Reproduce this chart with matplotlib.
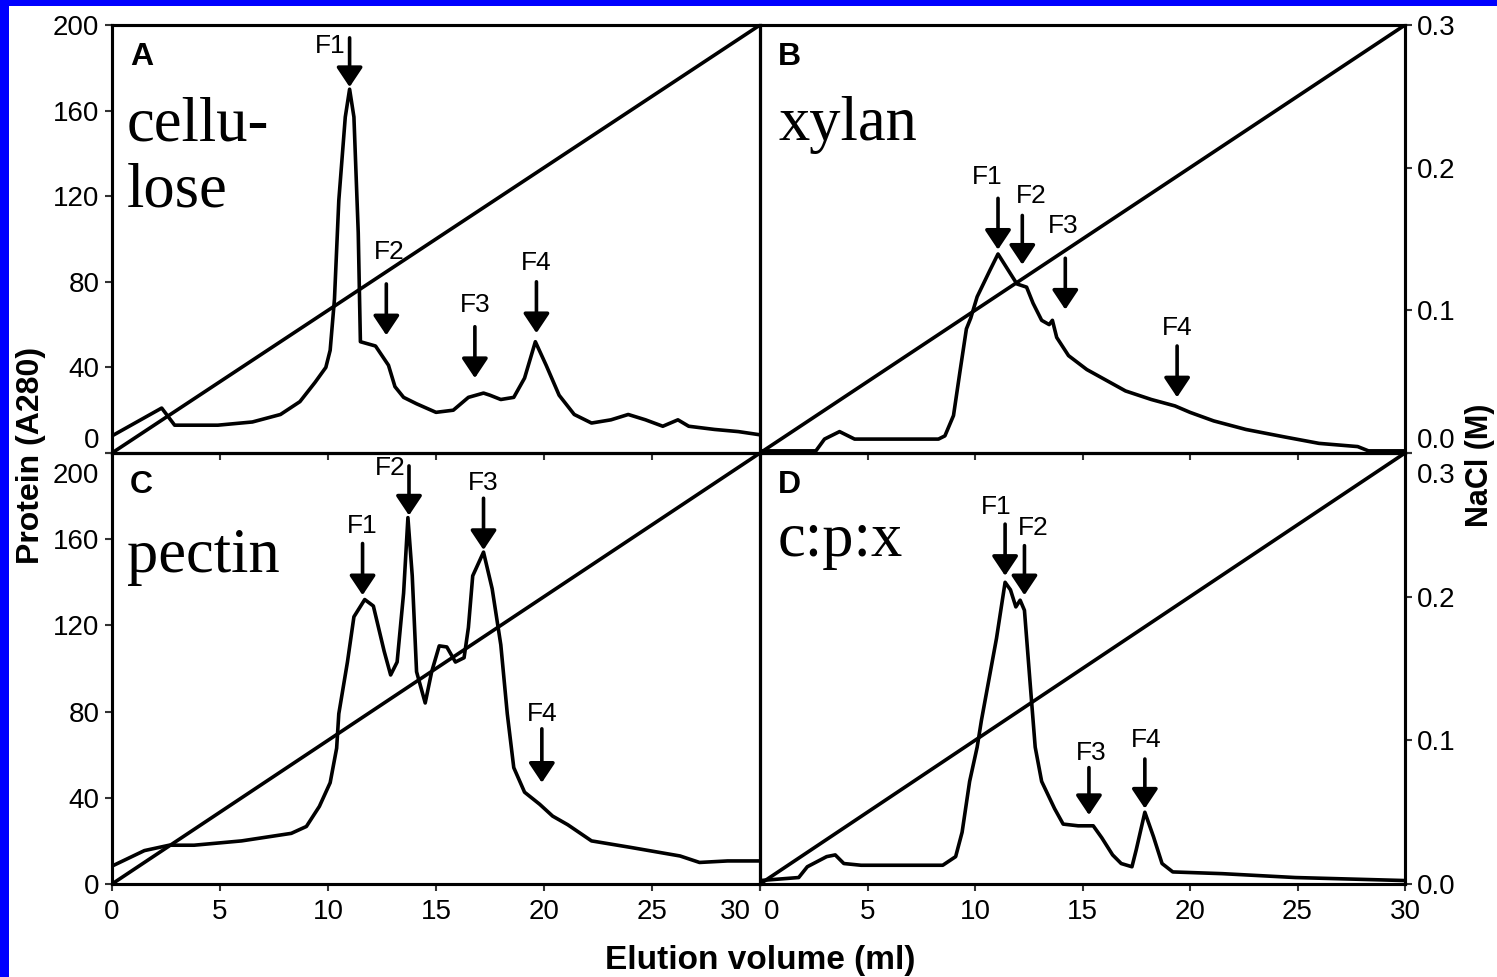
import matplotlib
matplotlib.use("Agg")
import matplotlib.pyplot as plt
from matplotlib.transforms import ScaledTranslation

NARROW = ['Liberation Sans Narrow', 'Liberation Sans', 'DejaVu Sans']
SERIF = ['Liberation Serif', 'DejaVu Serif']
plt.rcParams['font.family'] = NARROW

# ---- data (protein, A280 units) ----
vol_a = [0, 2.3, 2.9, 4.9, 6.5, 7.8, 8.7, 9.4, 9.9, 10.1, 10.3, 10.5, 10.8, 11.0, 11.2, 11.4,
         11.5, 12.2, 12.8, 13.1, 13.5, 14.1, 15.0, 15.8, 16.5, 17.2, 17.5, 18.0, 18.6, 19.1,
         19.6, 20.1, 20.7, 21.4, 22.2, 23.1, 23.9, 24.7, 25.5, 26.2, 26.7, 27.9, 29.0, 30.0]
prot_a = [8, 21, 13, 13, 14.5, 18, 24, 33, 40, 48, 72, 118, 157, 170, 157, 103,
          52, 50, 41, 31, 26, 23, 19, 20, 26, 28, 27, 25, 26, 35,
          52, 41, 27, 18, 14, 15.5, 18, 15.5, 12.5, 15.5, 12.5, 11, 10, 8.5]

vol_b = [0, 2.6, 3.0, 3.7, 4.4, 5.8, 8.3, 8.6, 9.0, 9.3, 9.6, 9.8, 10.1, 10.7, 11.07, 11.95,
         12.4, 12.7, 13.1, 13.45, 13.6, 13.8, 14.35, 15.2, 16.1, 17.0, 18.2, 19.3, 20.0,
         21.1, 22.6, 24.4, 26.0, 27.8, 28.3, 30.0]
prot_b = [1, 1, 6.5, 10, 6.5, 6.5, 6.5, 8, 17.5, 38, 58, 63, 73, 85.5, 93, 79,
          77.5, 70, 62, 60, 62, 54, 45.5, 39, 34, 29, 25, 22, 19,
          15, 11, 7.5, 4.5, 3, 1, 1]

vol_c = [0, 1.5, 2.65, 3.8, 6.0, 8.3, 9.0, 9.6, 10.1, 10.4, 10.5, 10.9, 11.2, 11.7, 12.1,
         12.6, 12.9, 13.2, 13.5, 13.7, 13.9, 14.1, 14.5, 14.8, 15.15, 15.5, 15.9, 16.3,
         16.5, 16.7, 17.2, 17.6, 18.0, 18.3, 18.6, 19.1, 19.8, 20.4, 21.1, 22.2, 24.0,
         26.3, 27.2, 28.5, 30.0]
prot_c = [8.3, 15.5, 18, 18, 20, 23.5, 26.7, 36, 47, 63, 79, 103, 124, 132, 129,
          108, 97, 103, 135, 170, 143, 98.5, 84, 98.5, 110.5, 110, 103, 105,
          119, 143, 154, 137, 111, 79, 54, 42.6, 37, 31.5, 27.5, 20, 17,
          13, 10, 10.7, 10.7]

vol_d = [0, 1.8, 2.2, 3.1, 3.5, 3.9, 4.7, 8.5, 9.1, 9.4, 9.75, 10.1, 10.3, 10.65, 11.0,
         11.4, 11.65, 11.9, 12.1, 12.3, 12.55, 12.8, 13.1, 13.7, 14.1, 14.8, 15.5, 15.9,
         16.4, 16.8, 17.3, 17.5, 17.9, 18.3, 18.7, 19.2, 21.5, 24.9, 30.0]
prot_d = [1.6, 3, 8, 12.7, 13.5, 9.5, 8.7, 8.7, 12.7, 24, 47.6, 63.5, 76, 95, 114,
          140, 136.5, 128.6, 131.7, 127, 95, 63.5, 47.6, 35, 27.8, 27, 27, 21.4,
          13.5, 9.5, 8, 15.9, 33.3, 22, 9.5, 5.6, 4.8, 3, 1.6]

# NaCl gradient (M)
grad_vol = [0, 30]
grad_nacl = [0.0, 0.3]

# fraction arrows: volume, arrow tip, arrow tail, label x, label y
frac_names = ['F1', 'F2', 'F3', 'F4']
arrows_a = dict(x=[11.0, 12.7, 16.8, 19.65], tip=[171, 55, 35, 56], tail=[194, 79, 59, 80],
                lx=[10.1, 12.85, 16.8, 19.65], ly=[190, 94, 69, 89])
arrows_b = dict(x=[11.07, 12.2, 14.2, 19.4], tip=[95, 88, 67, 26], tail=[119, 111, 91, 50],
                lx=[10.56, 12.6, 14.1, 19.4], ly=[129, 120, 106, 58.5])
arrows_c = dict(x=[11.6, 13.75, 17.2, 19.9], tip=[134, 171, 155, 47], tail=[158, 194, 179, 72],
                lx=[11.6, 12.9, 17.2, 19.9], ly=[166, 193, 186, 79])
arrows_d = dict(x=[11.4, 12.3, 15.3, 17.9], tip=[143, 134, 32, 35], tail=[167, 157, 54, 58],
                lx=[11.0, 12.7, 15.4, 17.95], ly=[175, 165, 61, 67])

panel_letters = ['A', 'B', 'C', 'D']
substrates = ['cellu-\nlose', 'xylan', 'pectin', 'c:p:x']

prot_ticks = [0, 40, 80, 120, 160, 200]
nacl_ticks = [0.0, 0.1, 0.2, 0.3]
vol_ticks = [0, 5, 10, 15, 20, 25, 30]

# ---- figure ----
W, H = 1497, 977
fig = plt.figure(figsize=(W / 100, H / 100), dpi=100, facecolor='#0000ff')
fig.patches.append(plt.Rectangle((9 / W, 0), 1, 1 - 6 / H, transform=fig.transFigure,
                                 facecolor='white', edgecolor='none', zorder=-10))

L, M, R = 112 / W, 760 / W, 1405 / W
T, MY, B = 1 - 25 / H, 1 - 453 / H, 1 - 884 / H
boxes = [[L, MY, M - L, T - MY], [M, MY, R - M, T - MY],
         [L, B, M - L, MY - B], [M, B, R - M, MY - B]]
vols = [vol_a, vol_b, vol_c, vol_d]
prots = [prot_a, prot_b, prot_c, prot_d]
arrows = [arrows_a, arrows_b, arrows_c, arrows_d]
# baseline of the last text line, axes fraction
sub_y = [0.575, 0.731, 0.725, 0.761]
sub_x = [0.023, 0.029, 0.023, 0.028]


def shift(label, dx, dy):
    label.set_transform(label.get_transform() +
                        ScaledTranslation(dx / 100, dy / 100, fig.dpi_scale_trans))


for i, box in enumerate(boxes):
    ax = fig.add_axes(box)
    ax2 = ax.twinx()
    ax.set_xlim(0, 30)
    ax.set_ylim(0, 200)
    ax2.set_ylim(0, 0.3)
    ax.set_zorder(2)
    ax.patch.set_visible(False)

    ax2.plot(grad_vol, grad_nacl, color='black', lw=2.6, solid_capstyle='butt')
    ax.plot(vols[i], prots[i], color='black', lw=2.6, solid_joinstyle='round')

    for a in (ax, ax2):
        for s in a.spines.values():
            s.set_linewidth(2.2)
            s.set_color('black')

    ax.set_xticks(vol_ticks)
    ax.tick_params(axis='both', direction='out', length=5, width=1.5, color='#333333',
                   labelsize=20, pad=4)
    ax.tick_params(axis='x', pad=6)
    ax2.tick_params(axis='y', direction='out', length=5, width=1.5, color='#333333',
                    labelsize=20, pad=3.5)
    ax.set_yticks(prot_ticks)
    ax2.set_yticks(nacl_ticks)
    ax2.set_yticklabels(['%.1f' % v for v in nacl_ticks])

    left_col = i in (0, 2)
    top_row = i in (0, 1)
    if left_col:
        ax2.tick_params(axis='y', right=False, labelright=False)
        yt = ax.yaxis.get_major_ticks()
        if top_row:
            shift(yt[0].label1, 0, 15)
        else:
            shift(yt[-1].label1, 0, -20)
    else:
        ax.tick_params(axis='y', left=False, labelleft=False)
        yt = ax2.yaxis.get_major_ticks()
        if top_row:
            shift(yt[0].label2, 0, 15)
        else:
            shift(yt[-1].label2, 0, -20)
    if top_row:
        ax.tick_params(axis='x', labelbottom=False)
    else:
        xt = ax.xaxis.get_major_ticks()
        if left_col:
            shift(xt[-1].label1, -25, 0)
        else:
            shift(xt[0].label1, 12, 0)

    ax.text(0.028, 0.96, panel_letters[i], transform=ax.transAxes, ha='left', va='top',
            fontsize=23, fontweight='bold')
    ax.text(sub_x[i], sub_y[i], substrates[i], transform=ax.transAxes, ha='left',
            va='baseline', fontsize=45, family=SERIF, linespacing=1.2)

    arr = arrows[i]
    for j, name in enumerate(frac_names):
        ax.annotate('', xy=(arr['x'][j], arr['tip'][j]), xytext=(arr['x'][j], arr['tail'][j]),
                    arrowprops=dict(arrowstyle='-|>,head_length=0.6,head_width=0.4',
                                    color='black', lw=2.6, shrinkA=0, shrinkB=0,
                                    mutation_scale=20))
        ax.text(arr['lx'][j], arr['ly'][j], name, ha='center', va='center', fontsize=19)

fig.text(31 / W, 1 - 455 / H, 'Protein (A280)', rotation=90, ha='center', va='center',
         fontsize=23, fontweight='bold')
fig.text(1480 / W, 1 - 465 / H, 'NaCl (M)', rotation=90, ha='center', va='center',
         fontsize=22, fontweight='bold')
fig.text(760 / W, 1 - 960 / H, 'Elution volume (ml)', ha='center', va='center',
         fontsize=24, fontweight='bold')

fig.savefig('out.png', dpi=100, facecolor=fig.get_facecolor())
